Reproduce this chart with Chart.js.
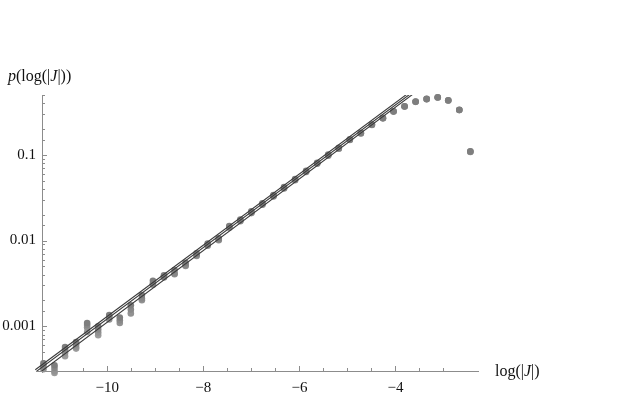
<!DOCTYPE html>
<html>
<head>
<meta charset="utf-8">
<script src="https://cdn.jsdelivr.net/npm/chart.js@4.4.0/dist/chart.umd.min.js"></script>
<style>
  html, body { margin: 0; padding: 0; background: #fff; }
</style>
</head>
<body>
<canvas id="grafico" width="624" height="408"></canvas>
<script>
// --- Dados (x = log(|J|), y = p(log(|J|))) ---
const logJ = [-11.33, -11.10, -10.88, -10.65, -10.42, -10.19, -9.96, -9.74, -9.51, -9.28,
              -9.05, -8.82, -8.60, -8.37, -8.14, -7.91, -7.68, -7.46, -7.23, -7.00,
              -6.77, -6.54, -6.32, -6.09, -5.86, -5.63, -5.40, -5.18, -4.95, -4.72,
              -4.49, -4.26, -4.04, -3.81, -3.58, -3.35, -3.12, -2.90, -2.67, -2.44];

const pSerieA = [3.69e-4, 3.50e-4, 5.73e-4, 6.55e-4, 1.09e-3, 1.00e-3, 1.35e-3, 1.26e-3, 1.76e-3, 2.31e-3,
                 3.39e-3, 3.94e-3, 4.52e-3, 5.50e-3, 7.08e-3, 9.2e-3, 0.0106, 0.0148, 0.0176, 0.0219,
                 0.0272, 0.0340, 0.0420, 0.0522, 0.0650, 0.0810, 0.101, 0.121, 0.152, 0.181,
                 0.226, 0.270, 0.323, 0.369, 0.419, 0.450, 0.470, 0.434, 0.336, 0.110];

const pSerieB = [3.40e-4, 3.25e-4, 5.33e-4, 6.15e-4, 1.03e-3, 9.14e-4, 1.29e-3, 1.17e-3, 1.57e-3, 2.11e-3,
                 3.15e-3, 3.77e-3, 4.13e-3, 5.16e-3, 6.76e-3, 8.9e-3, 0.0103, 0.0144, 0.0171, 0.0213,
                 0.0266, 0.0332, 0.0410, 0.0512, 0.0640, 0.0798, 0.0990, 0.119, 0.150, 0.179,
                 0.2245, 0.268, 0.321, 0.367, 0.417, 0.448, 0.468, 0.432, 0.334, 0.109];

const pSerieC = [3.14e-4, 2.98e-4, 4.88e-4, 5.73e-4, 9.66e-4, 8.43e-4, 1.20e-3, 1.09e-3, 1.41e-3, 2.01e-3,
                 3.05e-3, 3.70e-3, 4.05e-3, 5.05e-3, 6.6e-3, 8.7e-3, 0.0101, 0.0141, 0.0168, 0.0209,
                 0.0262, 0.0327, 0.0405, 0.0506, 0.0633, 0.0790, 0.0980, 0.118, 0.149, 0.178,
                 0.223, 0.267, 0.320, 0.366, 0.416, 0.447, 0.467, 0.431, 0.333, 0.108];

// pontos extras visíveis apenas na parte baixa
const logJExtra = [-11.33, -11.10, -10.88, -10.65, -10.42, -10.19];
const pSerieD   = [2.53e-4, 2.85e-4, 4.46e-4, 5.48e-4, 8.57e-4, 7.85e-4];

// retas de ajuste (lei de potência): extremos em x e valores de p
const ajusteX = [-11.5, -3.5];
const ajusteA = [3.10e-4, 0.656];
const ajusteB = [2.90e-4, 0.618];
const ajusteC = [2.63e-4, 0.583];

// rótulos dos eixos
const tituloY = [['p', true], ['(log(|', false], ['J', true], ['|))', false]];
const tituloX = [['log(|', false], ['J', true], ['|)', false]];

const FONTE = '"Liberation Serif", "DejaVu Serif", serif';
const pares = (xs, ys) => xs.map((x, i) => ({ x: x, y: ys[i] }));

const serieLinha = (ys) => ({
    data: pares(ajusteX, ys), showLine: true, borderColor: '#3a3a3a', borderWidth: 1.1,
    pointRadius: 0, fill: false, clip: { left: 8, top: 0, right: 0, bottom: 0 }
});
const seriePontos = (xs, ys, cor) => ({
    data: pares(xs, ys), backgroundColor: cor, borderWidth: 0, pointRadius: 3.3,
    pointHoverRadius: 3.3, clip: false
});

// desenha texto com trechos em itálico
function textoMisto(ctx, partes, x, y) {
    let cx = x;
    partes.forEach(([t, it]) => {
        ctx.font = (it ? 'italic ' : '') + '16px ' + FONTE;
        ctx.fillText(t, cx, y);
        cx += ctx.measureText(t).width;
    });
}

// eixos no estilo Mathematica: marcas para dentro, sem grade
const eixosPlugin = {
    id: 'eixos',
    beforeDatasetsDraw(chart) {
        const { ctx, chartArea: a, scales } = chart;
        ctx.save();
        ctx.strokeStyle = '#8c8c8c';
        ctx.lineWidth = 1;
        ctx.beginPath();
        ctx.moveTo(a.left - 6, Math.round(a.bottom) + 0.5);
        ctx.lineTo(a.right, Math.round(a.bottom) + 0.5);
        ctx.moveTo(Math.round(a.left) + 0.5, a.top);
        ctx.lineTo(Math.round(a.left) + 0.5, a.bottom + 2);
        scales.x.ticks.forEach(t => {
            const v = t.value;
            if (Math.abs(v * 2 - Math.round(v * 2)) > 1e-6) return;
            const px = Math.round(scales.x.getPixelForValue(v)) + 0.5;
            const len = (Math.round(v) === v && v % 2 === 0) ? 5 : 3;
            ctx.moveTo(px, a.bottom);
            ctx.lineTo(px, a.bottom - len);
        });
        scales.y.ticks.forEach(t => {
            const l = Math.log10(t.value);
            const maior = Math.abs(l - Math.round(l)) < 1e-9;
            const py = Math.round(scales.y.getPixelForValue(t.value)) + 0.5;
            ctx.moveTo(a.left, py);
            ctx.lineTo(a.left + (maior ? 5 : 3), py);
        });
        ctx.stroke();
        ctx.restore();
    },
    afterDraw(chart) {
        const { ctx, chartArea: a } = chart;
        ctx.save();
        ctx.fillStyle = '#111';
        ctx.textBaseline = 'middle';
        textoMisto(ctx, tituloY, 8, a.top - 18);
        textoMisto(ctx, tituloX, a.right + 16, a.bottom + 1);
        ctx.restore();
    }
};

new Chart(document.getElementById('grafico').getContext('2d'), {
    type: 'scatter',
    data: {
        datasets: [
            serieLinha(ajusteA),
            serieLinha(ajusteB),
            serieLinha(ajusteC),
            seriePontos(logJ, pSerieA, '#7e7e7e'),
            seriePontos(logJ, pSerieB, '#888888'),
            seriePontos(logJ, pSerieC, '#929292'),
            seriePontos(logJExtra, pSerieD, '#9c9c9c')
        ]
    },
    options: {
        responsive: false, animation: false, devicePixelRatio: 1,
        layout: { padding: { top: 95, right: 145, left: 0, bottom: 0 } },
        plugins: { legend: { display: false }, tooltip: { enabled: false } },
        scales: {
            x: {
                type: 'linear', min: -11.36, max: -2.26,
                grid: { display: false, drawTicks: false }, border: { display: false },
                afterFit: (s) => { s.height = 37; },
                ticks: {
                    stepSize: 0.5, autoSkip: false, maxRotation: 0, padding: 8,
                    color: '#111', font: { family: FONTE, size: 15 },
                    callback: (v) => (Number.isInteger(v) && v % 2 === 0) ? '\u2212' + Math.abs(v) : ''
                }
            },
            y: {
                type: 'logarithmic', min: 0.0003, max: 0.5,
                grid: { display: false, drawTicks: false }, border: { display: false },
                afterFit: (s) => { s.width = 42; },
                ticks: {
                    autoSkip: false, padding: 6,
                    color: '#111', font: { family: FONTE, size: 15 },
                    callback: (v) => {
                        const l = Math.log10(v);
                        return Math.abs(l - Math.round(l)) < 1e-9 ? String(v) : '';
                    }
                }
            }
        }
    },
    plugins: [eixosPlugin]
});
</script>
</body>
</html>
